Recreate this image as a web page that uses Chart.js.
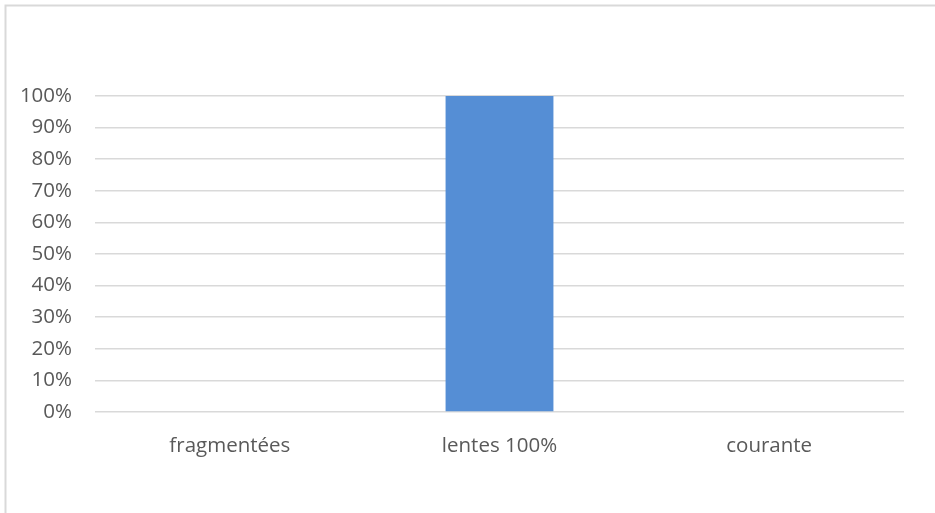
<!DOCTYPE html>
<html>
<head>
<meta charset="utf-8">
<script src="https://cdn.jsdelivr.net/npm/chart.js@4/dist/chart.umd.min.js"></script>
<style>
  html, body { margin: 0; padding: 0; background: #ffffff; }
  #wrap { width: 935px; height: 513px; position: relative; }
</style>
</head>
<body>
<div id="wrap"><canvas id="c"></canvas></div>
<script>
const categories = ["fragmentées", "lentes 100%", "courante"];
const values = [0, 100, 0];
const yTicks = [0, 10, 20, 30, 40, 50, 60, 70, 80, 90, 100];

const framePlugin = {
  id: 'frame',
  beforeDraw(chart) {
    const ctx = chart.ctx;
    ctx.save();
    ctx.fillStyle = '#ffffff';
    ctx.fillRect(0, 0, chart.width, chart.height);
    ctx.strokeStyle = '#d9d9d9';
    ctx.lineWidth = 2;
    ctx.beginPath();
    ctx.moveTo(5.5, chart.height);
    ctx.lineTo(5.5, 5.5);
    ctx.lineTo(chart.width, 5.5);
    ctx.stroke();
    ctx.restore();
  }
};

new Chart(document.getElementById('c'), {
  type: 'bar',
  data: {
    labels: categories,
    datasets: [{
      data: values,
      backgroundColor: '#558ed5',
      borderWidth: 0,
      barPercentage: 0.4,
      categoryPercentage: 1.0
    }]
  },
  options: {
    responsive: true,
    maintainAspectRatio: false,
    animation: false,
    layout: { padding: { left: 0, right: 31, top: 96, bottom: 41 } },
    plugins: { legend: { display: false }, tooltip: { enabled: false } },
    scales: {
      x: {
        grid: { display: false, drawTicks: false },
        border: { display: false },
        ticks: { color: '#595959', font: { family: 'Open Sans', size: 20.5 }, padding: 22 },
        afterFit(scale) { scale.height = 60; }
      },
      y: {
        min: 0, max: 100,
        afterBuildTicks(scale) { scale.ticks = yTicks.map(v => ({ value: v })); },
        grid: { color: '#d9d9d9', lineWidth: 1.5, drawTicks: false },
        border: { display: false },
        ticks: {
          color: '#595959', font: { family: 'Open Sans', size: 20.5 }, padding: 23,
          callback: v => v + '%'
        },
        afterFit(scale) { scale.width = 95; }
      }
    }
  },
  plugins: [framePlugin]
});
</script>
</body>
</html>
